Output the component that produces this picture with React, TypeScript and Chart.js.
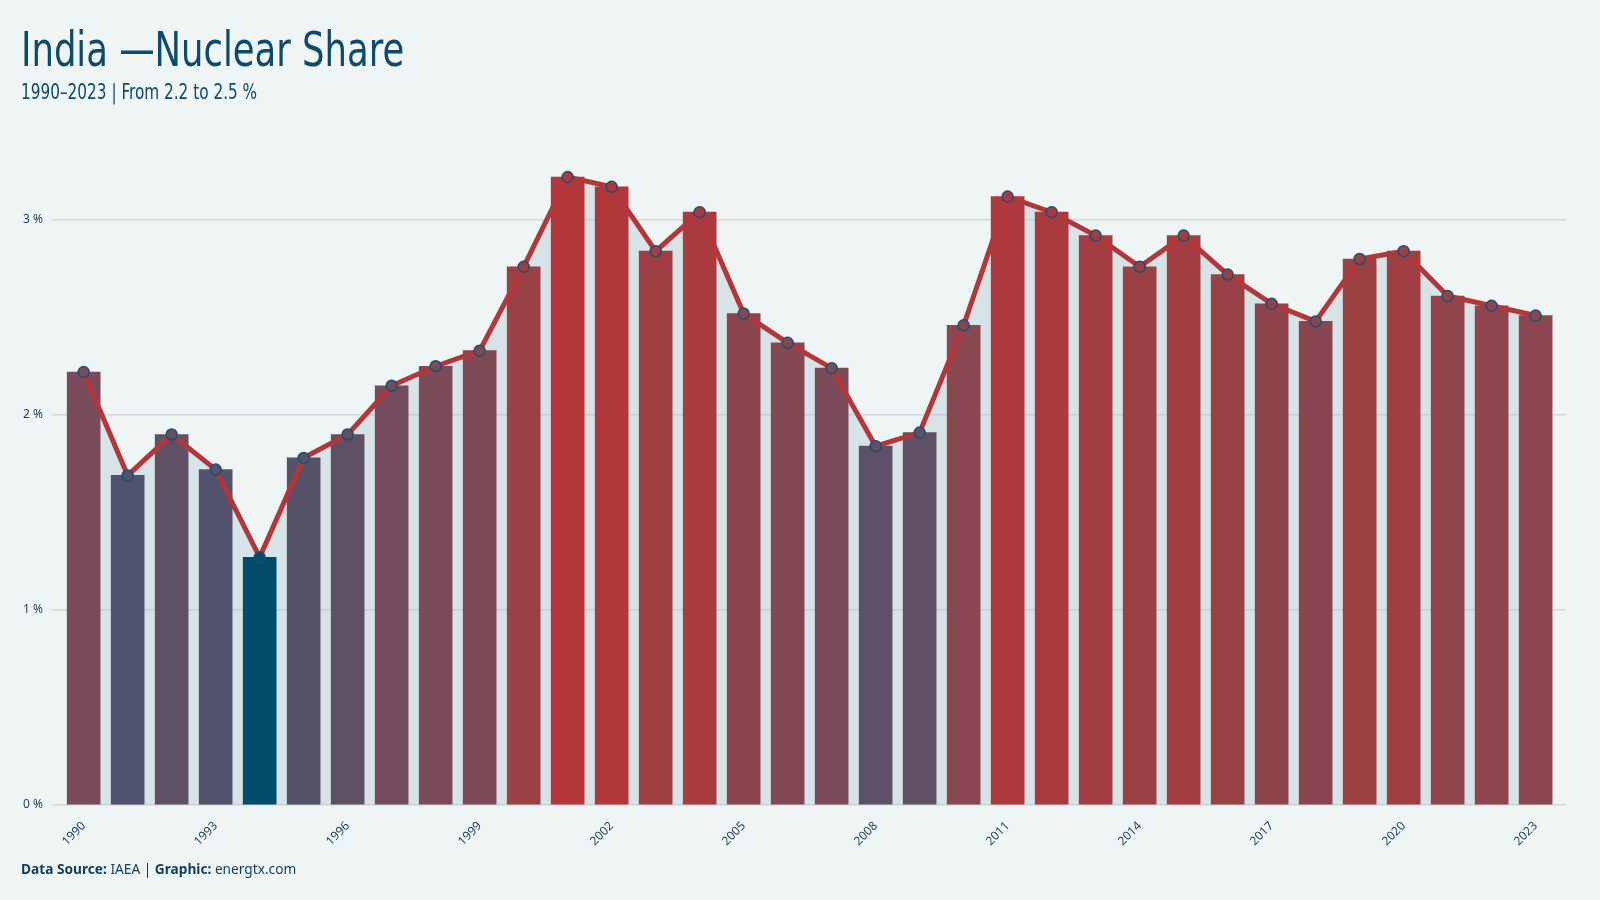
import React, { useEffect, useRef } from "react";
import { Chart, registerables } from "chart.js";

Chart.register(...registerables);

const years = [
  1990, 1991, 1992, 1993, 1994, 1995, 1996, 1997, 1998, 1999,
  2000, 2001, 2002, 2003, 2004, 2005, 2006, 2007, 2008, 2009,
  2010, 2011, 2012, 2013, 2014, 2015, 2016, 2017, 2018, 2019,
  2020, 2021, 2022, 2023,
];
const nuclearShare = [
  2.22, 1.69, 1.9, 1.72, 1.27, 1.78, 1.9, 2.15, 2.25, 2.33,
  2.76, 3.22, 3.17, 2.84, 3.04, 2.52, 2.37, 2.24, 1.84, 1.91,
  2.46, 3.12, 3.04, 2.92, 2.76, 2.92, 2.72, 2.57, 2.48, 2.8,
  2.84, 2.61, 2.56, 2.51,
];
const xTickIndexes = [0, 3, 6, 9, 12, 15, 18, 21, 24, 27, 30, 33];
const yTickValues = [0, 1, 2, 3];

const TITLE = "India —Nuclear Share";
const SUBTITLE = "1990–2023 | From 2.2 to 2.5 %";

const BG = "#eff5f5";
const TEXT = "#0d4a6b";
const AXIS_TEXT = "#1c3d5c";
const LINE_RED = "#b3373a";

const colorStops: [number, number[]][] = [
  [0, [2, 75, 106]],
  [0.216, [80, 83, 109]],
  [0.49, [122, 75, 90]],
  [0.76, [154, 65, 69]],
  [1, [179, 55, 58]],
];

function colorFor(v: number, min: number, max: number): string {
  const t = (v - min) / (max - min);
  for (let i = 1; i < colorStops.length; i++) {
    const [t1, c1] = colorStops[i];
    const [t0, c0] = colorStops[i - 1];
    if (t <= t1 || i === colorStops.length - 1) {
      const f = Math.max(0, Math.min(1, (t - t0) / (t1 - t0)));
      const c = c0.map((x, k) => Math.round(x + (c1[k] - x) * f));
      return `rgb(${c[0]},${c[1]},${c[2]})`;
    }
  }
  return LINE_RED;
}

const FONT = "'Noto Sans', 'Open Sans', sans-serif";
const TITLE_FONT = "'DejaVu Sans Condensed', 'DejaVu Sans', sans-serif";

export default function App() {
  const ref = useRef<HTMLCanvasElement | null>(null);

  useEffect(() => {
    if (!ref.current) return;
    const minV = Math.min(...nuclearShare);
    const maxV = Math.max(...nuclearShare);
    const colors = nuclearShare.map((v) => colorFor(v, minV, maxV));
    const points = nuclearShare.map((v, i) => ({ x: i, y: v }));

    const chart = new Chart(ref.current, {
      type: "bar",
      data: {
        datasets: [
          {
            type: "line",
            data: points,
            borderColor: LINE_RED,
            borderWidth: 5,
            tension: 0,
            fill: "origin",
            backgroundColor: "#d7e4e7",
            pointRadius: 5.5,
            pointBorderWidth: 1.5,
            pointBorderColor: "#1d4f70",
            pointBackgroundColor: colors,
            order: 0,
          } as any,
          {
            type: "bar",
            data: points,
            backgroundColor: colors,
            barThickness: 33,
            borderWidth: 0,
            order: 1,
          } as any,
        ],
      },
      options: {
        animation: false,
        responsive: false,
        maintainAspectRatio: false,
        layout: { padding: { top: 142, right: 34, bottom: 0, left: 0 } },
        plugins: {
          legend: { display: false },
          tooltip: { enabled: false },
          filler: { drawTime: "beforeDraw" } as any,
        },
        scales: {
          x: {
            type: "linear",
            min: -0.72,
            max: 33.69,
            offset: false,
            grid: { display: false, offset: false },
            border: { display: false },
            afterBuildTicks: (scale: any) => {
              scale.ticks = xTickIndexes.map((v) => ({ value: v }));
            },
            afterFit: (scale: any) => {
              scale.height = 95;
            },
            ticks: {
              autoSkip: false,
              minRotation: 45,
              maxRotation: 45,
              padding: 6,
              color: AXIS_TEXT,
              font: { family: FONT, size: 12 },
              callback: (v: any) => String(years[v as number] ?? ""),
            },
          },
          y: {
            type: "linear",
            min: 0,
            max: 3.4,
            grid: {
              color: "rgba(160,172,178,0.38)",
              lineWidth: 1.5,
              drawTicks: false,
            },
            border: { display: false },
            afterBuildTicks: (scale: any) => {
              scale.ticks = yTickValues.map((v) => ({ value: v }));
            },
            afterFit: (scale: any) => {
              scale.width = 52;
            },
            ticks: {
              padding: 9,
              color: AXIS_TEXT,
              font: { family: FONT, size: 12 },
              callback: (v: any) => `${v} %`,
            },
          },
        },
      },
    });
    return () => chart.destroy();
  }, []);

  return (
    <div
      style={{
        position: "fixed",
        left: 0,
        top: 0,
        width: 1600,
        height: 900,
        background: BG,
        overflow: "hidden",
      }}
    >
      <canvas
        ref={ref}
        width={1600}
        height={900}
        style={{ position: "absolute", left: 0, top: 0, width: 1600, height: 900 }}
      />
      <div
        style={{
          position: "absolute",
          left: 21,
          top: 20,
          fontFamily: TITLE_FONT,
          fontSize: 48,
          lineHeight: "58px",
          color: TEXT,
          whiteSpace: "nowrap",
          transform: "scaleX(0.82)",
          transformOrigin: "left top",
        }}
      >
        {TITLE}
      </div>
      <div
        style={{
          position: "absolute",
          left: 21,
          top: 79,
          fontFamily: TITLE_FONT,
          fontSize: 21,
          lineHeight: "26px",
          color: TEXT,
          whiteSpace: "nowrap",
          transform: "scaleX(0.81)",
          transformOrigin: "left top",
        }}
      >
        {SUBTITLE}
      </div>
      <div
        style={{
          position: "absolute",
          left: 21,
          top: 860,
          fontFamily: FONT,
          fontSize: 13.7,
          lineHeight: "18px",
          color: "#0f3d5c",
          whiteSpace: "nowrap",
        }}
      >
        <b>Data Source:</b> IAEA | <b>Graphic:</b> energtx.com
      </div>
    </div>
  );
}
